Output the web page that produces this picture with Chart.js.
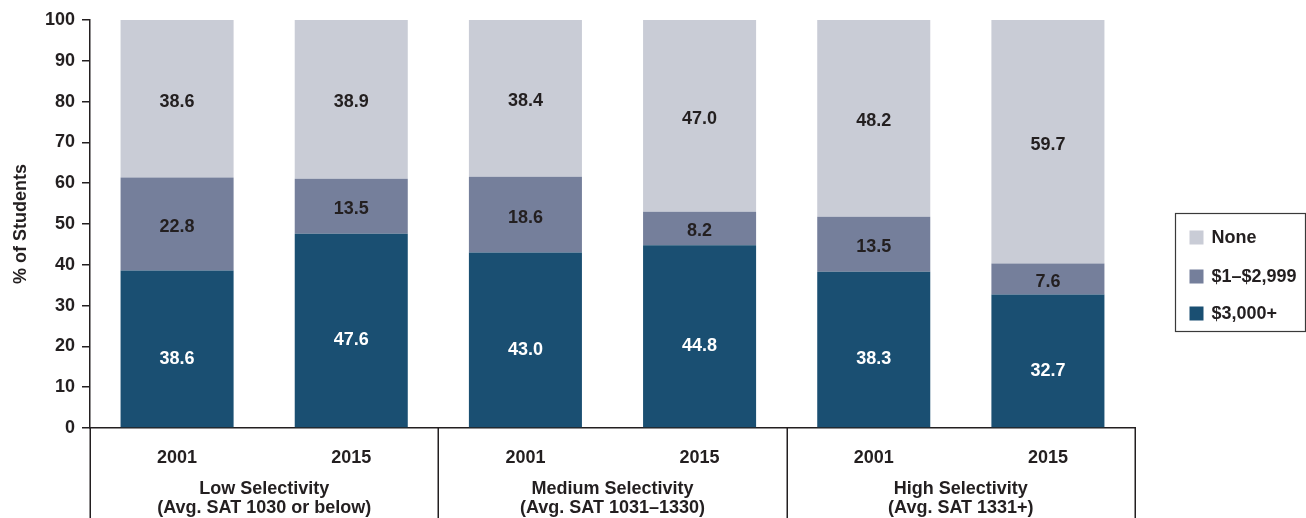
<!DOCTYPE html>
<html><head><meta charset="utf-8">
<script src="https://cdn.jsdelivr.net/npm/chart.js@4.4.0/dist/chart.umd.min.js"></script>
<style>html,body{margin:0;padding:0;background:#fff}#wrap{width:1306px;height:518px;position:relative}</style>
</head><body><div id="wrap"><canvas id="c" width="1306" height="518"></canvas></div>
<script>
const categories = ['2001', '2015', '2001', '2015', '2001', '2015'];
const groupLabels = [
  ['Low Selectivity', '(Avg. SAT 1030 or below)'],
  ['Medium Selectivity', '(Avg. SAT 1031–1330)'],
  ['High Selectivity', '(Avg. SAT 1331+)']
];
const seriesNames = ['$3,000+', '$1–$2,999', 'None'];
const aid3000Plus = [38.6, 47.6, 43.0, 44.8, 38.3, 32.7];
const aid1to2999 = [22.8, 13.5, 18.6, 8.2, 13.5, 7.6];
const aidNone = [38.6, 38.9, 38.4, 47.0, 48.2, 59.7];
const yTickValues = [0, 10, 20, 30, 40, 50, 60, 70, 80, 90, 100];
const seriesColors = ['#1a4f72', '#757f9b', '#c9ccd6'];
const INK = '#231f20';
const FONT = '"Liberation Sans", Arial, Helvetica, sans-serif';

const labelPlugin = {
  id: 'segLabels',
  afterDatasetsDraw(chart) {
    const ctx = chart.ctx;
    ctx.save();
    ctx.font = 'bold 18px ' + FONT;
    ctx.textAlign = 'center';
    ctx.textBaseline = 'middle';
    chart.data.datasets.forEach((ds, di) => {
      const meta = chart.getDatasetMeta(di);
      meta.data.forEach((el, i) => {
        const v = ds.data[i];
        const mid = (el.y + el.base) / 2 + (di === 0 ? 10 : 3);
        ctx.fillStyle = di === 0 ? '#ffffff' : INK;
        ctx.fillText(v.toFixed(1), el.x, mid);
      });
    });
    ctx.restore();
  }
};

const groupPlugin = {
  id: 'groups',
  afterDraw(chart) {
    const ctx = chart.ctx;
    const xs = chart.scales.x;
    const ca = chart.chartArea;
    const H = chart.height;
    ctx.save();
    ctx.strokeStyle = INK;
    ctx.lineWidth = 1.5;
    for (let g = 0; g <= groupLabels.length; g++) {
      const px = Math.round(xs.getPixelForValue(g * 2 - 0.5)) + 0.25;
      ctx.beginPath();
      ctx.moveTo(px, ca.bottom);
      ctx.lineTo(px, H);
      ctx.stroke();
    }
    ctx.fillStyle = INK;
    ctx.font = 'bold 18px ' + FONT;
    ctx.textAlign = 'center';
    ctx.textBaseline = 'middle';
    groupLabels.forEach((lines, g) => {
      const cx = (xs.getPixelForValue(g * 2) + xs.getPixelForValue(g * 2 + 1)) / 2;
      lines.forEach((t, k) => ctx.fillText(t, cx, ca.bottom + 61 + k * 19));
    });
    // legend box
    const bx = ca.right + 40.5, by = ca.top + 193.5, bw = 130, bh = 118;
    ctx.strokeStyle = '#3a3a3a';
    ctx.lineWidth = 1.2;
    ctx.strokeRect(bx, by, bw, bh);
    ctx.textAlign = 'left';
    const rows = [24, 63, 100];
    chart.data.datasets.slice().reverse().forEach((ds, k) => {
      const cy = by + rows[k];
      ctx.fillStyle = ds.backgroundColor;
      ctx.fillRect(bx + 14, cy - 7, 14, 14);
      ctx.fillStyle = INK;
      ctx.fillText(ds.label, bx + 36, cy + 1);
    });
    ctx.restore();
  }
};

new Chart(document.getElementById('c'), {
  type: 'bar',
  data: {
    labels: categories,
    datasets: [
      { label: seriesNames[0], data: aid3000Plus, backgroundColor: seriesColors[0] },
      { label: seriesNames[1], data: aid1to2999, backgroundColor: seriesColors[1] },
      { label: seriesNames[2], data: aidNone, backgroundColor: seriesColors[2] }
    ]
  },
  options: {
    responsive: false,
    devicePixelRatio: 1,
    animation: false,
    layout: { padding: { left: 0, right: 171, top: 20, bottom: 0 } },
    datasets: { bar: { barPercentage: 0.649, categoryPercentage: 1 } },
    plugins: { legend: { display: false }, tooltip: { enabled: false } },
    scales: {
      x: {
        stacked: true,
        grid: { display: false, drawTicks: false },
        border: { display: true, color: INK, width: 1.5 },
        ticks: { color: INK, font: { family: FONT, size: 18, weight: 'bold' }, padding: 19, maxRotation: 0 },
        afterFit(s) { s.height = 90; }
      },
      y: {
        stacked: true,
        min: 0, max: 100,
        afterBuildTicks(s) { s.ticks = yTickValues.map(v => ({ value: v })); },
        grid: { display: true, drawOnChartArea: false, drawTicks: true, tickLength: 8, color: INK, lineWidth: 1.5 },
        border: { display: true, color: INK, width: 1.5 },
        ticks: { color: INK, font: { family: FONT, size: 18, weight: 'bold' }, padding: 7 },
        title: { display: true, text: '% of Students', color: INK, font: { family: FONT, size: 18, weight: 'bold' }, padding: { top: 10, bottom: 0 } },
        afterFit(s) { s.width = 90; }
      }
    }
  },
  plugins: [labelPlugin, groupPlugin]
});
</script>
</body></html>
